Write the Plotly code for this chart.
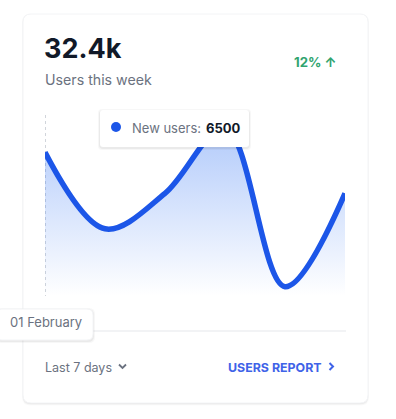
import plotly.graph_objects as go

categories = ["01 February", "02 February", "03 February", "04 February", "05 February", "06 February"]
new_users = [6500, 6418, 6456, 6526, 6356, 6456]
headline = "32.4k"
subtitle = "Users this week"
change = "12% ↑"
tooltip_label = "New users:"
tooltip_value = "6500"
x_tooltip = "01 February"
period_label = "Last 7 days"
report_label = "USERS REPORT"

W, H = 396, 419
FONT = "Inter, Noto Sans, sans-serif"


def px(x):
    return x / W


def py(y):
    return 1 - y / H


def rrect(x0, y0, x1, y1, r):
    rx, ry = r / W, r / H
    X0, X1 = px(x0), px(x1)
    Y0, Y1 = py(y0), py(y1)  # Y0 top (larger), Y1 bottom
    return (
        f"M {X0+rx},{Y0} L {X1-rx},{Y0} Q {X1},{Y0} {X1},{Y0-ry} "
        f"L {X1},{Y1+ry} Q {X1},{Y1} {X1-rx},{Y1} L {X0+rx},{Y1} "
        f"Q {X0},{Y1} {X0},{Y1+ry} L {X0},{Y0-ry} Q {X0},{Y0} {X0+rx},{Y0} Z"
    )


fig = go.Figure()
fig.add_trace(
    go.Scatter(
        x=list(range(len(categories))),
        y=new_users,
        mode="lines",
        line=dict(color="#1C56E8", width=5.5, shape="spline", smoothing=1.0),
        fill="tozeroy",
        fillgradient=dict(
            type="vertical",
            start=6346,
            stop=6526,
            colorscale=[[0, "rgba(28,100,242,0)"], [1, "rgba(28,100,242,0.34)"]],
        ),
        hoverinfo="skip",
        showlegend=False,
    )
)

shapes = []
# card shadow + card
for i, a in enumerate([0.02, 0.03, 0.045]):
    d = 2 - i
    shapes.append(dict(type="path", xref="paper", yref="paper",
                       path=rrect(23 - d * 0.5, 14 + 1 - d * 0.5, 368 + d * 0.5, 404 + d * 0.7, 8),
                       fillcolor=f"rgba(0,0,0,{a})", line=dict(width=0), layer="below"))
shapes.append(dict(type="path", xref="paper", yref="paper", path=rrect(23, 14, 368, 403, 8),
                   fillcolor="white", line=dict(color="#F3F4F6", width=1), layer="below"))
# dashed crosshair
shapes.append(dict(type="line", xref="paper", yref="paper", x0=px(45.5), x1=px(45.5), y0=py(115), y1=py(296),
                   line=dict(color="#D1D5DB", width=1, dash="3px,3px"), layer="below"))
# separator
shapes.append(dict(type="line", xref="paper", yref="paper", x0=px(45), x1=px(346), y0=py(331), y1=py(331),
                   line=dict(color="#E5E7EB", width=1), layer="above"))
# tooltip (value)
for i, a in enumerate([0.03, 0.05]):
    d = 2 - i
    shapes.append(dict(type="path", xref="paper", yref="paper", path=rrect(100 - d, 110 - d + 1, 249 + d, 147 + d + 1, 4),
                       fillcolor=f"rgba(0,0,0,{a})", line=dict(width=0), layer="above"))
shapes.append(dict(type="path", xref="paper", yref="paper", path=rrect(100, 110, 249, 147, 3),
                   fillcolor="white", line=dict(width=0), layer="above"))
shapes.append(dict(type="circle", xref="paper", yref="paper", x0=px(111), x1=px(121), y0=py(122), y1=py(132),
                   fillcolor="#1C56E8", line=dict(width=0), layer="above"))
# x tooltip
for i, a in enumerate([0.03, 0.05]):
    d = 2 - i
    shapes.append(dict(type="path", xref="paper", yref="paper", path=rrect(-4, 309 - d + 1, 93 + d, 340 + d + 1, 6),
                       fillcolor=f"rgba(0,0,0,{a})", line=dict(width=0), layer="above"))
shapes.append(dict(type="path", xref="paper", yref="paper", path=rrect(-4, 309, 93, 340, 6),
                   fillcolor="white", line=dict(color="#F3F4F6", width=1), layer="above"))

annotations = [
    dict(text=f"<b>{headline}</b>", x=px(41.5), y=py(48), xanchor="left", yanchor="middle",
         font=dict(family=FONT, size=27, color="#111928")),
    dict(text=subtitle, x=px(43), y=py(79), xanchor="left", yanchor="middle",
         font=dict(family=FONT, size=14.2, color="#6B7280")),
    dict(text=f"<b>{change}</b>", x=px(338), y=py(62), xanchor="right", yanchor="middle",
         font=dict(family=FONT, size=13.2, color="#31A46F")),
    dict(text=tooltip_label, x=px(130), y=py(128), xanchor="left", yanchor="middle",
         font=dict(family=FONT, size=13, color="#6B7280")),
    dict(text=f"<b>{tooltip_value}</b>", x=px(204), y=py(128), xanchor="left", yanchor="middle",
         font=dict(family=FONT, size=13, color="#111928")),
    dict(text=x_tooltip, x=px(46), y=py(322), xanchor="center", yanchor="middle",
         font=dict(family=FONT, size=13, color="#6B7280")),
    dict(text=period_label, x=px(42.5), y=py(367), xanchor="left", yanchor="middle",
         font=dict(family=FONT, size=12.5, color="#6B7280")),
    dict(text=f"<b>{report_label}</b>", x=px(226), y=py(367), xanchor="left", yanchor="middle",
         font=dict(family=FONT, size=12.4, color="#3F63E8")),
]
for a in annotations:
    a.update(xref="paper", yref="paper", showarrow=False)

# chevrons
shapes.append(dict(type="path", xref="paper", yref="paper",
                   path=f"M {px(119)},{py(364.5)} L {px(122.5)},{py(368)} L {px(126)},{py(364.5)}",
                   line=dict(color="#6B7280", width=1.8), layer="above"))
shapes.append(dict(type="path", xref="paper", yref="paper",
                   path=f"M {px(329.5)},{py(363)} L {px(333)},{py(366.5)} L {px(329.5)},{py(370)}",
                   line=dict(color="#3F63E8", width=2), layer="above"))

fig.update_layout(
    width=W, height=H,
    margin=dict(l=0, r=0, t=0, b=0),
    paper_bgcolor="white",
    plot_bgcolor="rgba(0,0,0,0)",
    xaxis=dict(domain=[px(45), px(345)], range=[0, len(categories) - 1], visible=False, fixedrange=True),
    yaxis=dict(domain=[py(296), py(115)], range=[6346, 6540], visible=False, fixedrange=True),
    shapes=shapes,
    annotations=annotations,
    showlegend=False,
)

fig.write_html("out.html", config={"displayModeBar": False},
               post_script="document.body.style.margin='0';document.body.style.overflow='hidden';")
